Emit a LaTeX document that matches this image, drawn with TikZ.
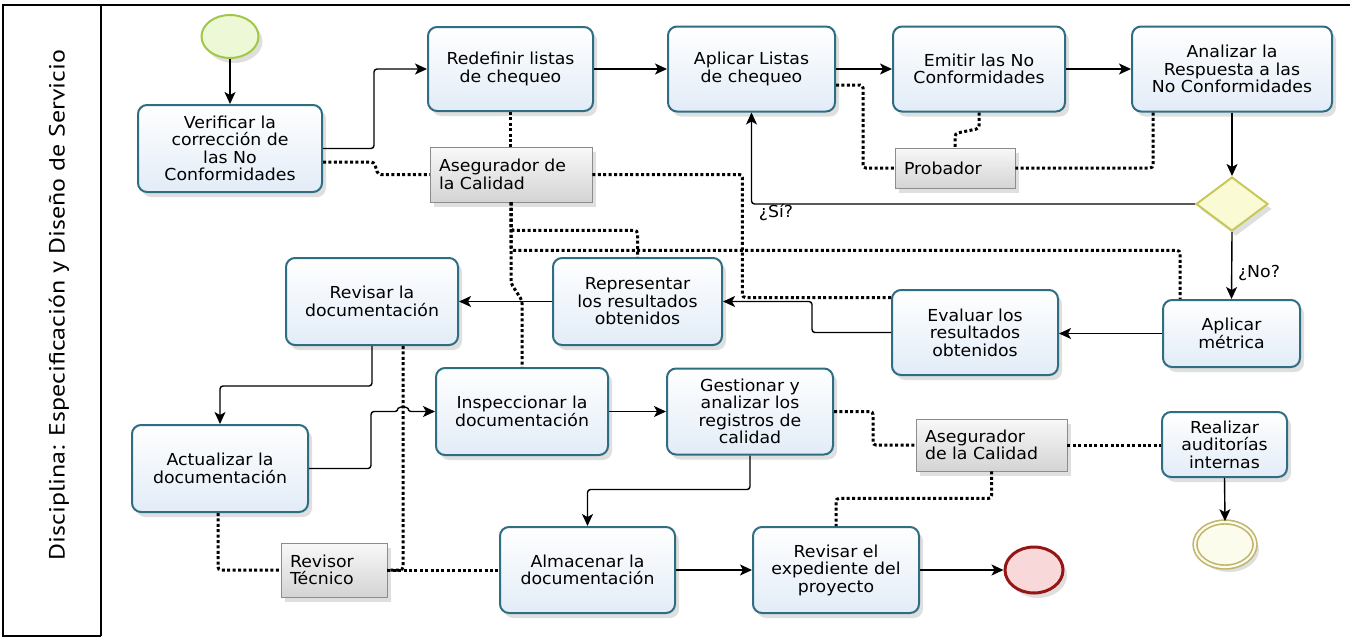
\documentclass[tikz,border=0pt]{standalone}
\usepackage{fontspec}
\newfontfamily\boxfont[FakeStretch=1.05]{DejaVu Sans}
\newfontfamily\lanefont[FakeStretch=1.18]{PT Sans}
\usetikzlibrary{arrows.meta,shapes.geometric,shadows}

\definecolor{taskbd}{RGB}{47,110,130}
\definecolor{taskbot}{RGB}{226,236,247}
\definecolor{notetop}{RGB}{248,248,248}
\definecolor{notebot}{RGB}{212,212,212}
\definecolor{notebd}{RGB}{140,140,140}
\definecolor{startbd}{RGB}{160,200,70}
\definecolor{startfill}{RGB}{236,248,214}
\definecolor{endbd}{RGB}{150,22,22}
\definecolor{endfill}{RGB}{248,216,216}
\definecolor{interbd}{RGB}{190,180,110}
\definecolor{interfill}{RGB}{252,252,236}
\definecolor{gatebd}{RGB}{200,200,90}
\definecolor{gatefill}{RGB}{250,250,212}

\newcommand\boxsize{\fontsize{16.5}{17.5}\selectfont}

\begin{document}
\begin{tikzpicture}[x=1pt,y=-1pt,
  softshadow/.style={drop shadow={opacity=0.25,shadow xshift=4pt,shadow yshift=-5pt}},
  task/.style={draw=taskbd,line width=2pt,rounded corners=9pt,top color=white,bottom color=taskbot,
    align=center,font=\boxfont\boxsize,inner sep=2pt,softshadow},
  note/.style={draw=notebd,line width=0.8pt,top color=notetop,bottom color=notebot,
    align=left,font=\boxfont\boxsize,inner xsep=9pt,inner ysep=0pt,softshadow},
  startev/.style={ellipse,draw=startbd,line width=2pt,fill=startfill,minimum width=57pt,minimum height=43pt,inner sep=0pt,softshadow},
  endev/.style={ellipse,draw=endbd,line width=3pt,fill=endfill,minimum width=58pt,minimum height=46pt,inner sep=0pt,softshadow},
  interev/.style={ellipse,draw=interbd,line width=1.6pt,double=interfill,double distance=2.2pt,fill=interfill,minimum width=60pt,minimum height=45pt,inner sep=0pt,softshadow},
  gateway/.style={diamond,draw=gatebd,line width=2pt,fill=gatefill,minimum width=72pt,minimum height=54pt,inner sep=0pt,softshadow},
  flow/.style={line width=1.4pt,rounded corners=3pt,-{Stealth[length=12pt,width=11pt,inset=3pt]}},
  assoc/.style={line width=3pt,dash pattern=on 3pt off 2.4pt,rounded corners=3pt},
  lbl/.style={font=\boxfont\boxsize,inner sep=1pt},
  frame/.style={line width=1.5pt,black}
]
\useasboundingbox (0,0) rectangle (1356,640);

% swimlane frame and header
\draw[frame] (1350,5) -- (3,5) -- (3,636) -- (101,636);
\draw[frame] (101,5) -- (101,636);
\node[rotate=90,font=\lanefont\fontsize{22}{24}\selectfont] (lane) at (59,305)
  {Disciplina: Especificación y Diseño de Servicio};

% events and gateway
\node[startev] (start) at (230,36.5) {};
\node[gateway] (gate) at (1232,204) {};
\node[endev] (end) at (1034,570) {};
\node[interev] (inter) at (1225,544.5) {};

% tasks
\node[task,minimum width=184pt,minimum height=87pt] (verif) at (230,148.5)
  {Verificar la\\corrección de\\las No\\Conformidades};
\node[task,minimum width=165pt,minimum height=84pt] (redef) at (510.5,69)
  {Redefinir listas\\de chequeo};
\node[task,minimum width=167pt,minimum height=85pt] (aplic) at (751.5,69)
  {Aplicar Listas\\de chequeo};
\node[task,minimum width=172pt,minimum height=85pt] (emitir) at (979,69)
  {Emitir las No\\Conformidades};
\node[task,minimum width=200pt,minimum height=85pt] (analiz) at (1232,69)
  {Analizar la\\Respuesta a las\\No Conformidades};
\node[task,minimum width=137pt,minimum height=67pt] (metrica) at (1231.5,333.5)
  {Aplicar\\métrica};
\node[task,minimum width=166pt,minimum height=85pt] (evaluar) at (975,332.5)
  {Evaluar los\\resultados\\obtenidos};
\node[task,minimum width=169pt,minimum height=87pt] (repres) at (637.5,301.5)
  {Representar\\los resultados\\obtenidos};
\node[task,minimum width=172pt,minimum height=87pt] (revdoc) at (372,301.5)
  {Revisar la\\documentación};
\node[task,minimum width=172pt,minimum height=87pt] (inspec) at (522,411.5)
  {Inspeccionar la\\documentación};
\node[task,minimum width=166pt,minimum height=86pt] (gestion) at (750,411.5)
  {Gestionar y\\analizar los\\registros de\\calidad};
\node[task,minimum width=176pt,minimum height=87pt] (actual) at (220,468.5)
  {Actualizar la\\documentación};
\node[task,minimum width=175pt,minimum height=86pt] (almac) at (587.5,570)
  {Almacenar la\\documentación};
\node[task,minimum width=166pt,minimum height=86pt] (revexp) at (836,570)
  {Revisar el\\expediente del\\proyecto};
\node[task,minimum width=125pt,minimum height=65pt] (audit) at (1224.5,444.5)
  {Realizar\\auditorías\\internas};

% annotations (roles)
\node[note,text width=144pt,minimum height=55pt] (aseg1) at (511,174.5)
  {\mbox{Asegurador de}\\\mbox{la Calidad}};
\node[note,text width=102pt,minimum height=40pt] (prob) at (955,168)
  {\mbox{Probador}};
\node[note,text width=133pt,minimum height=52pt] (aseg2) at (991.5,445)
  {\mbox{Asegurador}\\\mbox{de la Calidad}};
\node[note,text width=88pt,minimum height=54pt] (revtec) at (334,570)
  {\mbox{Revisor}\\\mbox{Técnico}};

% sequence flows
\draw[flow] (start) -- (verif);
\draw[flow] (verif.east) -- ++(51,0) |- (redef.west);
\draw[flow] (redef.east) -- (aplic.west);
\draw[flow] (aplic.east) -- (emitir.west);
\draw[flow] (emitir.east) -- (analiz.west);
\draw[flow] (analiz.south) -- (gate.north);
\draw[flow] (gate.west) -| (aplic.south);
\node[lbl] (si) at (776,213) {¿Sí?};
\draw[flow] (gate.south) -- (metrica.north);
\node[lbl] (no) at (1259,273) {¿No?};
\draw[flow] (metrica.west) -- (metrica.west -| evaluar.east);
\draw[flow] (evaluar.west) -- ++(-79,0) |- (repres.east);
\draw[flow] (repres.west) -- (revdoc.east);
\draw[flow] (revdoc.south) -- ++(0,40) -| (actual.north);
\draw[flow] (actual.east) -- ++(62,0) |- (398,411.5) arc (180:360:5) -- (inspec.west);
\draw[flow] (inspec.east) -- (gestion.west);
\draw[flow] (gestion.south) -- ++(0,34) -| (almac.north);
\draw[flow] (almac.east) -- (revexp.west);
\draw[flow] (revexp.east) -- (end.west);
\draw[flow] (audit.south) -- (inter.north);

% associations
\draw[assoc] ([yshift=-13.5pt]verif.east) -- ++(51,0) -- ++(4,12.5) -- (aseg1.west);
\draw[assoc] (redef.south) -- (redef.south |- aseg1.north);
\draw[assoc] (aseg1.south) -- ++(0,81) -- ++(11,17) -- (inspec.north);
\draw[assoc] (aseg1.south) -- ++(0,28) -| (repres.north);
\draw[assoc] (aseg1.south) -- ++(0,48) -| ([xshift=-51.5pt]metrica.north);
\draw[assoc] (aseg1.east) -- ++(150,0) |- ([yshift=35pt]evaluar.west);
\draw[assoc] ([yshift=-16pt]aplic.east) -- ++(27,0) |- (prob.west);
\draw[assoc] (emitir.south) -- ++(0,16) -- ++(-24,5) -- (prob.north);
\draw[assoc] ([xshift=-79pt]analiz.south) |- (prob.east);
\draw[assoc] ([xshift=31pt]revdoc.south) |- (revtec.east);
\draw[assoc] (revtec.east) -- (almac.west);
\draw[assoc] ([xshift=-2pt]actual.south) |- (revtec.west);
\draw[assoc] (gestion.east) -- ++(39,0) |- (aseg2.west);
\draw[assoc] (aseg2.south) -- ++(0,27) -| (revexp.north);
\draw[assoc] (aseg2.east) -- (aseg2.east -| audit.west);
\end{tikzpicture}
\end{document}
